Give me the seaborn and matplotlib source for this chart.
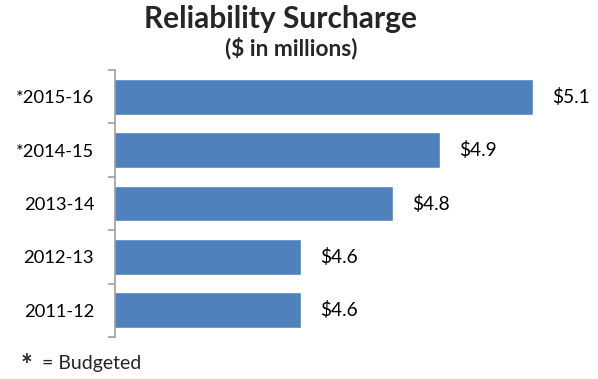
import matplotlib
matplotlib.use("Agg")
import matplotlib.pyplot as plt
import seaborn as sb
import numpy as np
import pandas as pd

years = ["*2015-16", "*2014-15", "2013-14", "2012-13", "2011-12"]
values = [5.1, 4.9, 4.8, 4.6, 4.6]
value_labels = ["$5.1", "$4.9", "$4.8", "$4.6", "$4.6"]

sb.set_style("white")
plt.rcParams["font.family"] = ["Lato", "DejaVu Sans"]

df = pd.DataFrame({"year": years, "value": values})

fig = plt.figure(figsize=(5.98, 3.79), dpi=100)
ax = fig.add_axes([115 / 598, 1 - 337 / 379, 464 / 598, 267 / 379])

sb.barplot(data=df, x="value", y="year", color="#4F81BD", saturation=1,
	width=0.67, ax=ax, orient="h")

ax.set_xlim(4.2, 5.2)
ax.set_ylim(len(years) - 0.5, -0.5)

for i, (v, lab) in enumerate(zip(values, value_labels)):
	ax.text(v + 0.041, i, lab, va="center", ha="left", fontsize=13.8, color="black")

for s in ("top", "right", "bottom"):
	ax.spines[s].set_visible(False)
ax.spines["left"].set_color("#A0A0A0")
ax.spines["left"].set_linewidth(1.2)

ax.set_xticks([])
ax.set_xlabel("")
ax.set_ylabel("")
ax.set_yticks(np.arange(len(years)))
ax.set_yticklabels(years)
ax.set_yticks(np.arange(-0.5, len(years)), minor=True)
ax.tick_params(axis="y", which="major", length=0, pad=15, labelsize=13.2, labelcolor="black")
ax.tick_params(axis="y", which="minor", length=5, width=1.2, color="#A0A0A0", left=True)

fig.text(281 / 598, 1 - 19 / 379, "Reliability Surcharge", ha="center", va="center",
	fontsize=21.5, fontweight="bold")
fig.text(291 / 598, 1 - 48 / 379, "($ in millions)", ha="center", va="center",
	fontsize=16.3, fontweight="bold")
fig.text(21 / 598, 1 - 366 / 379, "*", ha="left", va="center", fontsize=20, fontweight="bold")
fig.text(42 / 598, 1 - 364 / 379, "= Budgeted", ha="left", va="center", fontsize=14)

fig.savefig("out.png", dpi=100)
